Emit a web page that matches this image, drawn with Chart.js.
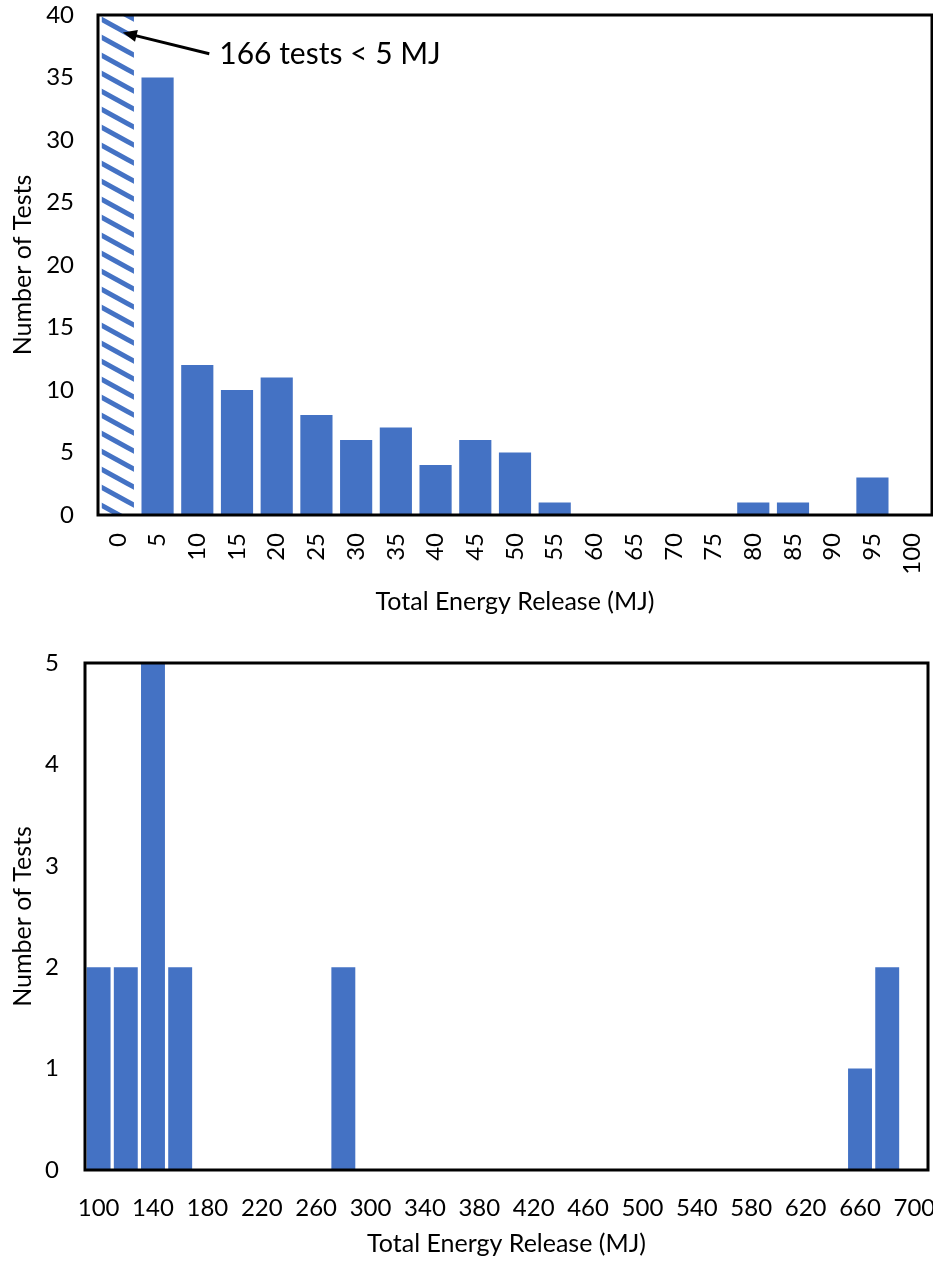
<!DOCTYPE html>
<html>
<head>
<meta charset="utf-8">
<script src="https://cdn.jsdelivr.net/npm/chart.js@4"></script>
<style>
  body { margin: 0; background: #fff; }
  .box { position: absolute; left: 0; width: 933px; }
  #boxTop { top: 0; height: 625px; }
  #boxBottom { top: 630px; height: 633px; }
</style>
</head>
<body>
<div class="box" id="boxTop"><canvas id="chartTop"></canvas></div>
<div class="box" id="boxBottom"><canvas id="chartBottom"></canvas></div>
<script>
// datos - grafica de arriba (0 a 100 MJ)
const etiquetasArriba = ["0","5","10","15","20","25","30","35","40","45","50","55","60","65","70","75","80","85","90","95","100"];
const pruebasArriba = [166, 35, 12, 10, 11, 8, 6, 7, 4, 6, 5, 1, 0, 0, 0, 0, 1, 1, 0, 3, 0];
const ticksArriba = [0, 5, 10, 15, 20, 25, 30, 35, 40];

// datos - grafica de abajo (100 a 700 MJ)
const etiquetasAbajo = ["100","120","140","160","180","200","220","240","260","280","300","320","340","360","380","400","420","440","460","480","500","520","540","560","580","600","620","640","660","680","700"];
const pruebasAbajo = [2, 2, 5, 2, 0, 0, 0, 0, 0, 2, 0, 0, 0, 0, 0, 0, 0, 0, 0, 0, 0, 0, 0, 0, 0, 0, 0, 0, 1, 2, 0];
const ticksAbajo = [0, 1, 2, 3, 4, 5];

const nota = "166 tests < 5 MJ";
const tituloX = "Total Energy Release (MJ)";
const tituloY = "Number of Tests";

const azul = "#4472C4";
Chart.defaults.font.family = "Lato";
Chart.defaults.color = "#000";

// rayado para la barra de 0
const crearRayado = () => {
  const c = document.createElement("canvas");
  c.width = 33;
  c.height = 18;
  const g = c.getContext("2d");
  g.fillStyle = "#fff";
  g.fillRect(0, 0, c.width, c.height);
  g.strokeStyle = azul;
  g.lineWidth = 5;
  for (let k = -1; k <= 1; k++) {
    g.beginPath();
    g.moveTo(-5, k * 18 - 5 * 18 / 33);
    g.lineTo(38, k * 18 + 18 + 5 * 18 / 33);
    g.stroke();
  }
  return g.createPattern(c, "repeat");
};

const marco = {
  id: "marco",
  afterDatasetsDraw(chart) {
    const { ctx, chartArea: a } = chart;
    ctx.save();
    ctx.strokeStyle = "#000";
    ctx.lineWidth = 3;
    ctx.strokeRect(a.left, a.top, a.right - a.left, a.bottom - a.top);
    ctx.restore();
  },
};

const flecha = {
  id: "flecha",
  afterDraw(chart) {
    const { ctx, scales } = chart;
    const x = scales.x, y = scales.y;
    const x0 = x.getPixelForValue(0) + 5;
    const y0 = y.getPixelForValue(38.6);
    const x1 = x.getPixelForValue(2) + 12;
    const y1 = y.getPixelForValue(36.9);
    const ang = Math.atan2(y0 - y1, x0 - x1);
    ctx.save();
    ctx.strokeStyle = "#000";
    ctx.fillStyle = "#000";
    ctx.lineWidth = 3;
    ctx.beginPath();
    ctx.moveTo(x1, y1);
    ctx.lineTo(x0 - 10 * Math.cos(ang), y0 - 10 * Math.sin(ang));
    ctx.stroke();
    ctx.beginPath();
    ctx.moveTo(x0, y0);
    ctx.lineTo(x0 - 14 * Math.cos(ang) + 6 * Math.sin(ang), y0 - 14 * Math.sin(ang) - 6 * Math.cos(ang));
    ctx.lineTo(x0 - 14 * Math.cos(ang) - 6 * Math.sin(ang), y0 - 14 * Math.sin(ang) + 6 * Math.cos(ang));
    ctx.closePath();
    ctx.fill();
    ctx.font = "30px Lato";
    ctx.textBaseline = "middle";
    ctx.fillText(nota, x1 + 10, y1 + 1);
    ctx.restore();
  },
};

const pintarGrafica = (canvas, etiquetas, datos, colores, ticksY, opc) => {
  return new Chart(canvas, {
    type: "bar",
    data: {
      labels: etiquetas,
      datasets: [
        {
          data: datos,
          backgroundColor: colores,
          barPercentage: opc.barra,
          categoryPercentage: 1,
          clip: 0,
        },
      ],
    },
    options: {
      responsive: true,
      maintainAspectRatio: false,
      animation: false,
      layout: { padding: opc.padding },
      plugins: { legend: { display: false }, tooltip: { enabled: false } },
      scales: {
        x: {
          grid: { display: false, drawTicks: false },
          border: { display: false },
          ticks: {
            font: { size: 24 },
            padding: opc.padX,
            autoSkip: false,
            maxRotation: opc.rot,
            minRotation: opc.rot,
            callback: function (v, i) {
              return i % opc.salto === 0 ? etiquetas[i] : "";
            },
          },
          title: { display: true, text: tituloX, font: { size: 25 }, padding: { top: 0, bottom: opc.tituloAbajo } },
          afterFit: (eje) => {
            eje.height = opc.altoX;
            eje.paddingLeft = 0;
            eje.paddingRight = 0;
          },
        },
        y: {
          min: 0,
          max: ticksY[ticksY.length - 1],
          afterBuildTicks: (eje) => { eje.ticks = ticksY.map((v) => ({ value: v })); },
          grid: { display: false, drawTicks: false },
          border: { display: false },
          ticks: { font: { size: 24 }, padding: opc.padY },
          title: { display: true, text: tituloY, font: { size: 25 }, padding: { top: 8, bottom: 0 } },
          afterFit: (eje) => {
            eje.width = opc.anchoY;
            eje.paddingTop = 0;
            eje.paddingBottom = 0;
          },
        },
      },
    },
    plugins: opc.extra,
  });
};

const coloresArriba = pruebasArriba.map((v, i) => (i === 0 ? crearRayado() : azul));
pintarGrafica(document.getElementById("chartTop"), etiquetasArriba, pruebasArriba, coloresArriba, ticksArriba, {
  barra: 0.81,
  padding: { top: 15, right: 1, left: 0, bottom: 0 },
  padX: 18,
  padY: 24,
  rot: 90,
  salto: 1,
  altoX: 110,
  anchoY: 98,
  tituloAbajo: 8,
  extra: [marco, flecha],
});

pintarGrafica(document.getElementById("chartBottom"), etiquetasAbajo, pruebasAbajo, azul, ticksAbajo, {
  barra: 0.88,
  padding: { top: 33, right: 5, left: 0, bottom: 0 },
  padX: 24,
  padY: 26,
  rot: 0,
  salto: 2,
  altoX: 93,
  anchoY: 85,
  tituloAbajo: 4,
  extra: [marco],
});
</script>
</body>
</html>
